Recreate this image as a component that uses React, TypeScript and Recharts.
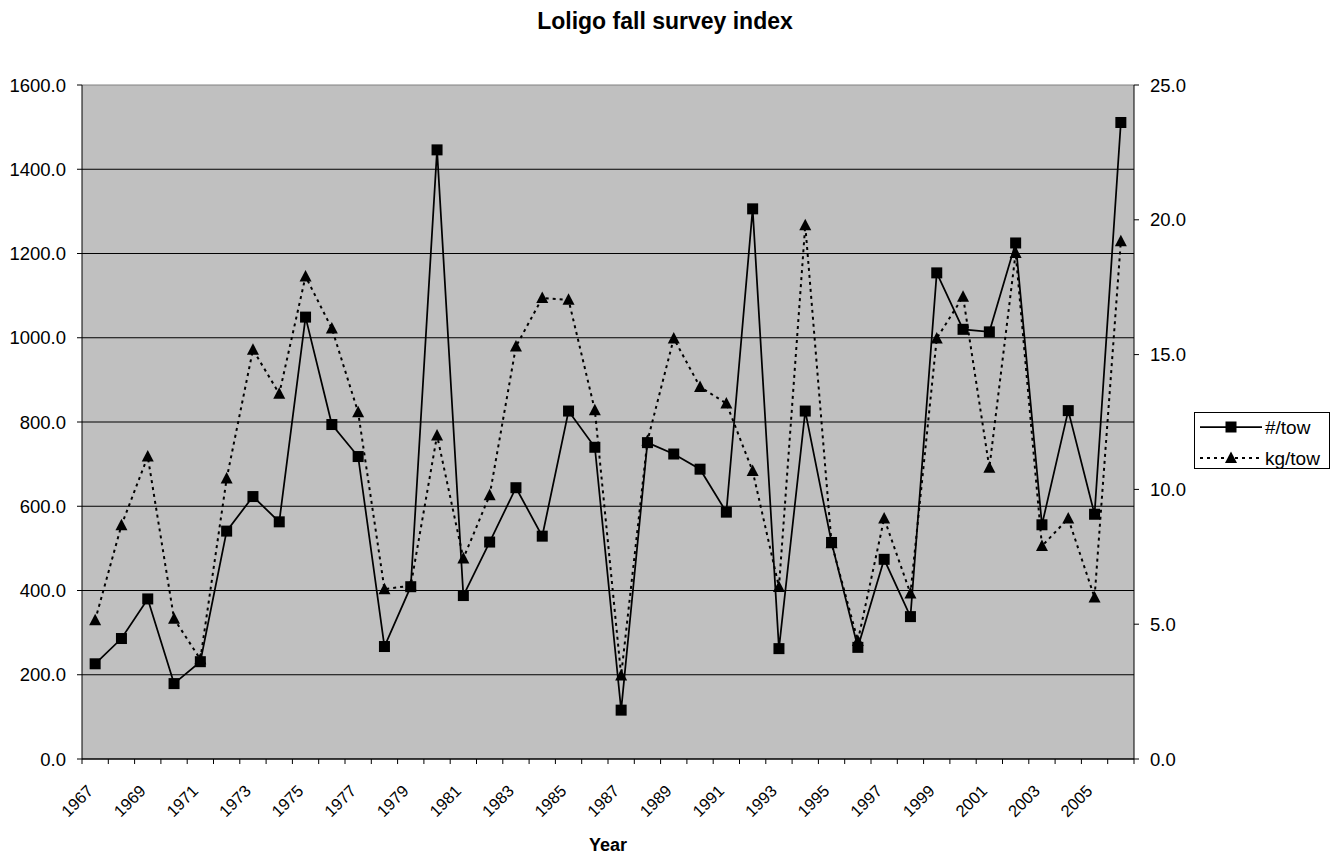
import React from 'react';
import { ComposedChart, Line, XAxis, YAxis, CartesianGrid, Legend, ReferenceLine } from 'recharts';

const years = [1967, 1968, 1969, 1970, 1971, 1972, 1973, 1974, 1975, 1976, 1977, 1978, 1979, 1980, 1981, 1982, 1983, 1984, 1985, 1986, 1987, 1988, 1989, 1990, 1991, 1992, 1993, 1994, 1995, 1996, 1997, 1998, 1999, 2000, 2001, 2002, 2003, 2004, 2005, 2006];
const numPerTow = [226, 286, 380, 179, 231, 541, 623, 563, 1049, 794, 718, 267, 409, 1446, 388, 515, 644, 529, 826, 740, 116, 751, 724, 688, 586, 1306, 262, 826, 514, 265, 474, 338, 1154, 1020, 1014, 1225, 556, 827, 581, 1511];
const kgPerTow = [5.15, 8.67, 11.22, 5.2, 3.7, 10.4, 15.18, 13.55, 17.9, 15.97, 12.86, 6.3, 6.43, 12.0, 7.44, 9.78, 15.3, 17.1, 17.03, 12.94, 3.1, 11.8, 15.6, 13.8, 13.19, 10.68, 6.38, 19.8, 8.0, 4.38, 8.92, 6.14, 15.6, 17.15, 10.8, 18.77, 7.9, 8.92, 5.99, 19.2];
const labelYears = [1967, 1969, 1971, 1973, 1975, 1977, 1979, 1981, 1983, 1985, 1987, 1989, 1991, 1993, 1995, 1997, 1999, 2001, 2003, 2005];
const leftTicks = [0, 200, 400, 600, 800, 1000, 1200, 1400, 1600];
const rightTicks = [0, 5, 10, 15, 20, 25];
const innerGrid = [200, 400, 600, 800, 1000, 1200, 1400];
const seriesNames = ['#/tow', 'kg/tow'];
const titleText = 'Loligo fall survey index';
const xTitle = 'Year';

const data = years.map((y, i) => ({ year: y, num: numPerTow[i], kg: kgPerTow[i] }));
const boundaries = [...years.map((y) => y - 0.5), years[years.length - 1] + 0.5];
const xDomain = [years[0] - 0.5, years[years.length - 1] + 0.5];

const FONT = '"Liberation Sans", Arial, Helvetica, sans-serif';

const SquareDot = (props: any) => {
  const { cx, cy, index } = props;
  if (cx == null || cy == null) return <g key={`s${index}`} />;
  return <rect key={`s${index}`} x={cx - 5.5} y={cy - 5.5} width={11} height={11} fill="#000" />;
};

const TriDot = (props: any) => {
  const { cx, cy, index } = props;
  if (cx == null || cy == null) return <g key={`t${index}`} />;
  return (
    <polygon
      key={`t${index}`}
      points={`${cx},${cy - 6.5} ${cx + 6},${cy + 5} ${cx - 6},${cy + 5}`}
      fill="#000"
    />
  );
};

const YearTick = (props: any) => {
  const { x, y, payload } = props;
  return (
    <g transform={`translate(${x},${y})`}>
      <text
        x={0}
        y={0}
        textAnchor="end"
        fontSize={16.5}
        fontFamily={FONT}
        fill="#000"
        transform="translate(-1,27) rotate(-45)"
      >
        {payload.value}
      </text>
    </g>
  );
};

const EmptyTick = () => <g />;

const LegendBox = () => (
  <div
    style={{
      width: 136,
      height: 57,
      border: '1px solid #000',
      background: '#fff',
      boxSizing: 'border-box',
    }}
  >
    <svg width={134} height={55} style={{ display: 'block' }}>
      <line x1={5} y1={14} x2={67} y2={14} stroke="#000" strokeWidth={1.75} />
      <rect x={30.5} y={8.5} width={11} height={11} fill="#000" />
      <text x={70} y={14} dy="0.355em" fontSize={19} fontFamily={FONT} fill="#000">
        {seriesNames[0]}
      </text>
      <line x1={5} y1={45} x2={67} y2={45} stroke="#000" strokeWidth={2} strokeDasharray="3 4" />
      <polygon points="36,38.5 42,50 30,50" fill="#000" />
      <text x={70} y={45} dy="0.355em" fontSize={19} fontFamily={FONT} fill="#000">
        {seriesNames[1]}
      </text>
    </svg>
  </div>
);

export default function App() {
  return (
    <div style={{ position: 'relative', width: 1330, height: 848, fontFamily: FONT, background: '#fff' }}>
      <div
        style={{
          position: 'absolute',
          left: 0,
          top: 1,
          width: 1314,
          textAlign: 'center',
          fontWeight: 'bold',
          fontSize: 23,
          lineHeight: '25px',
          color: '#000',
          zIndex: 2,
        }}
      >
        {titleText}
      </div>
      <div
        style={{
          position: 'absolute',
          left: 0,
          top: 828,
          width: 1200,
          textAlign: 'center',
          fontWeight: 'bold',
          fontSize: 18,
          lineHeight: '18px',
          color: '#000',
          zIndex: 2,
        }}
      >
        {xTitle}
      </div>
      <ComposedChart
        width={1330}
        height={848}
        data={data}
        margin={{ top: 77, right: 144, bottom: 31, left: 0 }}
        style={{ fontFamily: FONT }}
      >
        <CartesianGrid
          xAxisId="lab"
          yAxisId="left"
          vertical={false}
          horizontal={true}
          horizontalValues={innerGrid}
          stroke="#000"
          strokeWidth={1}
          fill="#c0c0c0"
          fillOpacity={1}
        />
        <XAxis
          xAxisId="grid"
          type="number"
          dataKey="year"
          domain={xDomain}
          ticks={boundaries}
          interval={0}
          tick={<EmptyTick />}
          tickSize={5}
          tickMargin={0}
          height={6}
          allowDataOverflow
          axisLine={{ stroke: '#000', strokeWidth: 1.5 }}
          tickLine={{ stroke: '#000' }}
        />
        <XAxis
          xAxisId="lab"
          type="number"
          dataKey="year"
          domain={xDomain}
          ticks={labelYears}
          interval={0}
          tick={<YearTick />}
          tickSize={0}
          tickMargin={0}
          height={60}
          allowDataOverflow
          axisLine={false}
          tickLine={false}
        />
        <YAxis
          yAxisId="left"
          domain={[0, 1600]}
          ticks={leftTicks}
          interval={0}
          width={74}
          tickSize={5}
          tickMargin={11}
          tickFormatter={(v: number) => v.toFixed(1)}
          tick={{ fill: '#000', fontSize: 18.5, fontFamily: FONT }}
          axisLine={{ stroke: '#000' }}
          tickLine={{ stroke: '#000' }}
          allowDataOverflow
        />
        <YAxis
          yAxisId="right"
          orientation="right"
          domain={[0, 25]}
          ticks={rightTicks}
          interval={0}
          width={60}
          tickSize={5}
          tickMargin={11}
          tickFormatter={(v: number) => v.toFixed(1)}
          tick={{ fill: '#000', fontSize: 18.5, fontFamily: FONT }}
          axisLine={{ stroke: '#000' }}
          tickLine={{ stroke: '#000' }}
          allowDataOverflow
        />
        <ReferenceLine xAxisId="lab" yAxisId="left" y={1600} stroke="#808080" strokeWidth={1} />
        <Line
          xAxisId="lab"
          yAxisId="left"
          dataKey="num"
          name={seriesNames[0]}
          stroke="#000"
          strokeWidth={1.75}
          dot={SquareDot}
          activeDot={false}
          isAnimationActive={false}
        />
        <Line
          xAxisId="lab"
          yAxisId="right"
          dataKey="kg"
          name={seriesNames[1]}
          stroke="#000"
          strokeWidth={2}
          strokeDasharray="3 4"
          dot={TriDot}
          activeDot={false}
          isAnimationActive={false}
        />
        <Legend
          layout="horizontal"
          align="center"
          verticalAlign="middle"
          content={<LegendBox />}
          wrapperStyle={{ left: 1186, top: 404, width: 136, height: 57 }}
        />
      </ComposedChart>
    </div>
  );
}
